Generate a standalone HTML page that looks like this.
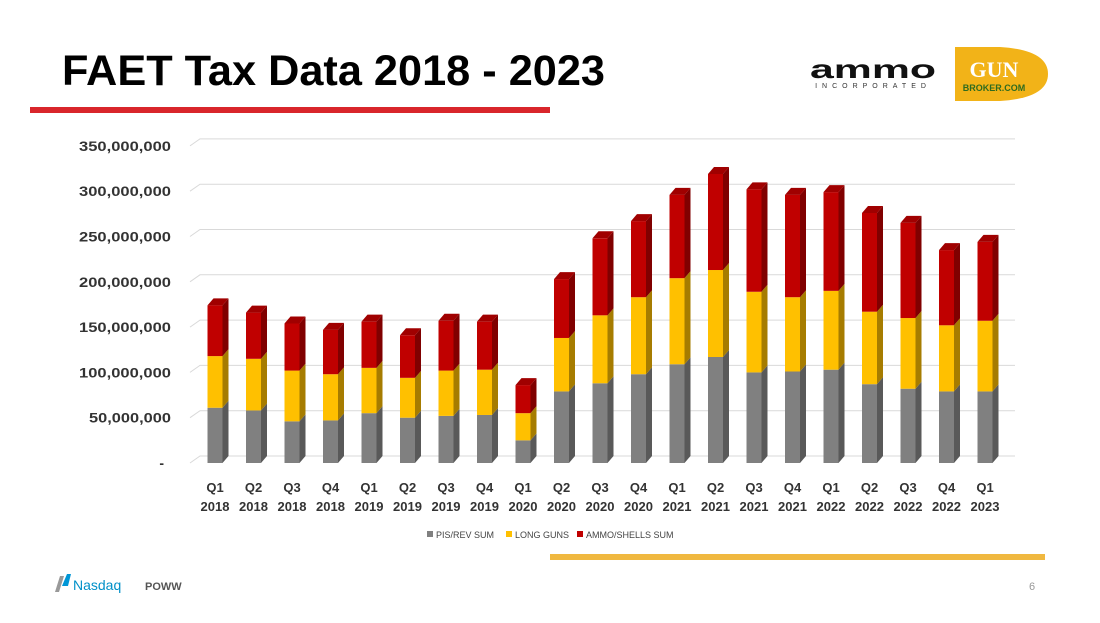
<!DOCTYPE html>
<html><head><meta charset="utf-8"><style>
body{margin:0;width:1100px;height:618px;background:#fff;overflow:hidden;font-family:"Liberation Sans",sans-serif}
</style></head><body>
<svg width="1100" height="618" viewBox="0 0 1100 618">
<text x="62" y="85" font-size="43" font-weight="bold" fill="#000" textLength="543" lengthAdjust="spacingAndGlyphs">FAET Tax Data 2018 - 2023</text>
<rect x="30" y="107" width="520" height="6" fill="#d9262b"/>
<g>
<text x="873" y="78" font-size="26" font-weight="bold" text-anchor="middle" fill="#111" textLength="126" lengthAdjust="spacingAndGlyphs">ammo</text>
<text x="873" y="88" font-size="7" letter-spacing="5" text-anchor="middle" fill="#333">INCORPORATED</text>
</g>
<g>
<path d="M955,47 L1000,47 Q1048,50 1048,74 Q1048,98 1000,101 L955,101 Z" fill="#f2b318"/>
<text x="994" y="77" font-size="22" font-weight="bold" font-family="Liberation Serif,serif" fill="#fff" text-anchor="middle">GUN</text>
<text x="994" y="91" font-size="9" font-weight="bold" fill="#2e6b1f" text-anchor="middle">BROKER.COM</text>
</g>
<g id="chart"></g>
<g font-size="9" fill="#444">
<rect x="427" y="531" width="6" height="6" fill="#808080"/><text x="436" y="538">PIS/REV SUM</text>
<rect x="506" y="531" width="6" height="6" fill="#ffc000"/><text x="515" y="538">LONG GUNS</text>
<rect x="577" y="531" width="6" height="6" fill="#c00000"/><text x="586" y="538">AMMO/SHELLS SUM</text>
</g>
<rect x="550" y="554" width="495" height="6" fill="#f0b840"/>
<g>
<path d="M55,592 L60,576 L64,576 L59,592Z" fill="#999"/><path d="M62,586 L67,574 L71,574 L68,586Z" fill="#0096d6"/>
<text x="73" y="590" font-size="14" fill="#0090c8">Nasdaq</text>
</g>
<text x="145" y="590" font-size="11" fill="#555" font-weight="bold">POWW</text>
<text x="1029" y="590" font-size="11" fill="#999">6</text>
</svg>
<script>
const categories=["Q1 2018","Q2 2018","Q3 2018","Q4 2018","Q1 2019","Q2 2019","Q3 2019","Q4 2019","Q1 2020","Q2 2020","Q3 2020","Q4 2020","Q1 2021","Q2 2021","Q3 2021","Q4 2021","Q1 2022","Q2 2022","Q3 2022","Q4 2022","Q1 2023"];
const pistols=[61,58,46,47,55,50,52,53,25,79,88,98,109,117,100,101,103,87,82,79,79];
const longGuns=[57,57,56,51,50,44,50,50,30,59,75,85,95,96,89,82,87,80,78,73,78];
const ammo=[56,51,52,49,51,47,55,53,31,65,85,84,92,106,113,113,109,109,105,83,87];
const yTicks=[0,50,100,150,200,250,300,350];
const yTickLabels=["-","50,000,000","100,000,000","150,000,000","200,000,000","250,000,000","300,000,000","350,000,000"];
const NS="http://www.w3.org/2000/svg";
const g=document.getElementById('chart');
const y0=463,k=0.906,x0=215,step=38.5,bw=15,dx=6,dy=7;
const Y=v=>y0-v*k, X=i=>x0+i*step;
function mk(t,a,p){const e=document.createElementNS(NS,t);for(const q in a)e.setAttribute(q,a[q]);(p||g).appendChild(e);return e;}
yTicks.forEach((t,i)=>{
 const yy=Y(t);
 const l=mk('path',{d:`M190,${yy} L${200},${yy-dy} L1015,${yy-dy}`,stroke:'#d9d9d9','stroke-width':1,fill:'none'});
 
 
 const tx=mk('text',{x:i===0?164:171,y:yy+5,'text-anchor':'end','font-size':14,'font-weight':'bold',fill:'#333'});
 tx.textContent=yTickLabels[i];
 if(i>0){tx.setAttribute('textLength',t>=100?92:82);tx.setAttribute('lengthAdjust','spacingAndGlyphs');}
 
 
});
const series=[[pistols,'#808080','#595959','#9a9a9a'],[longGuns,'#ffc000','#a67c00','#ffd54d'],[ammo,'#c00000','#800000','#a00000']];
categories.forEach((c,i)=>{
 const cx=X(i),x=cx-bw/2;let base=0;
 series.forEach((s,si)=>{
  const v=s[0][i],top=base+v,yb=Y(base),yt=Y(top);
  const side=mk('polygon',{points:`${x+bw},${yb} ${x+bw+dx},${yb-dy} ${x+bw+dx},${yt-dy} ${x+bw},${yt}`,fill:s[2]});
  
  
  const r=mk('rect',{x:x,y:yt,width:bw,height:yb-yt,fill:s[1]});
  
  
  if(si===2){const cap=mk('polygon',{points:`${x},${yt} ${x+dx},${yt-dy} ${x+bw+dx},${yt-dy} ${x+bw},${yt}`,fill:s[3]});
   
   }
  base=top;
 });
 const p=c.split(' ');
 const t1=mk('text',{x:cx,y:492,'text-anchor':'middle','font-size':13,'font-weight':'bold',fill:'#333'});t1.textContent=p[0];
 
 
 const t2=mk('text',{x:cx,y:511,'text-anchor':'middle','font-size':13,'font-weight':'bold',fill:'#333'});t2.textContent=p[1];
 
 
});
</script>
</body></html>
